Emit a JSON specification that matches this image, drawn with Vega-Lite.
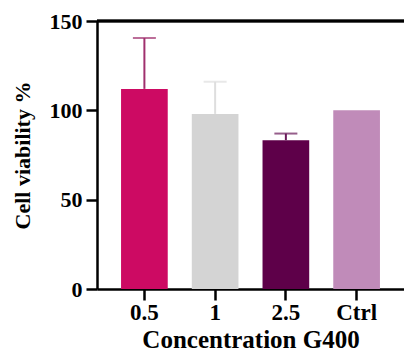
{
  "$schema": "https://vega.github.io/schema/vega-lite/v6.json",
  "autosize": "none",
  "padding": {"left": 97, "top": 21, "right": 0, "bottom": 66},
  "width": 307,
  "height": 268,
  "background": "white",
  "config": {
    "view": {"stroke": null},
    "font": "Liberation Serif",
    "axis": {
      "labelFont": "Liberation Serif",
      "titleFont": "Liberation Serif",
      "labelFontWeight": "bold",
      "titleFontWeight": "bold",
      "labelColor": "black",
      "titleColor": "black",
      "domainColor": "black",
      "tickColor": "black",
      "domainWidth": 2.5,
      "tickWidth": 2.5,
      "grid": false
    }
  },
  "data": {
    "values": [
      {"conc": "0.5", "mean": 112, "upper": 140.5},
      {"conc": "1", "mean": 98, "upper": 116},
      {"conc": "2.5", "mean": 83.3, "upper": 87},
      {"conc": "Ctrl", "mean": 100, "upper": null}
    ]
  },
  "layer": [
    {
      "mark": {"type": "bar"},
      "encoding": {
        "x": {
          "field": "conc",
          "type": "nominal",
          "sort": null,
          "scale": {"paddingInner": 0.34, "paddingOuter": 0.34},
          "axis": {
            "title": "Concentration G400",
            "labelAngle": 0,
            "labelFontSize": 23,
            "titleFontSize": 25,
            "tickSize": 11,
            "labelPadding": 1,
            "titlePadding": 3
          }
        },
        "y": {
          "field": "mean",
          "type": "quantitative",
          "scale": {"domain": [0, 150], "nice": false},
          "axis": {
            "title": "Cell viability %",
            "values": [0, 50, 100, 150],
            "labelFontSize": 22,
            "titleFontSize": 22,
            "tickSize": 11,
            "labelPadding": 4,
            "titlePadding": 15
          }
        },
        "color": {
          "field": "conc",
          "type": "nominal",
          "sort": null,
          "scale": {"range": ["#CD0A63", "#D4D4D4", "#5E0049", "#C08BB9"]},
          "legend": null
        }
      }
    },
    {
      "transform": [{"filter": "datum.upper != null"}],
      "mark": {"type": "rule", "strokeWidth": 2},
      "encoding": {
        "x": {"field": "conc", "type": "nominal", "sort": null},
        "y": {"field": "mean", "type": "quantitative"},
        "y2": {"field": "upper"},
        "color": {
          "field": "conc",
          "type": "nominal",
          "sort": null,
          "scale": {"range": ["#A0306E", "#DEDEDE", "#6A1A5A", "#C08BB9"]},
          "legend": null
        }
      }
    },
    {
      "transform": [{"filter": "datum.upper != null"}],
      "mark": {"type": "tick", "size": 23, "thickness": 2, "orient": "horizontal"},
      "encoding": {
        "x": {"field": "conc", "type": "nominal", "sort": null},
        "y": {"field": "upper", "type": "quantitative"},
        "color": {
          "field": "conc",
          "type": "nominal",
          "sort": null,
          "scale": {"range": ["#A0306E", "#DEDEDE", "#6A1A5A", "#C08BB9"]},
          "legend": null
        }
      }
    },
    {
      "mark": {"type": "rule", "color": "black", "strokeWidth": 2.5},
      "encoding": {"y": {"datum": 150}}
    }
  ],
  "resolve": {"scale": {"color": "independent"}}
}
